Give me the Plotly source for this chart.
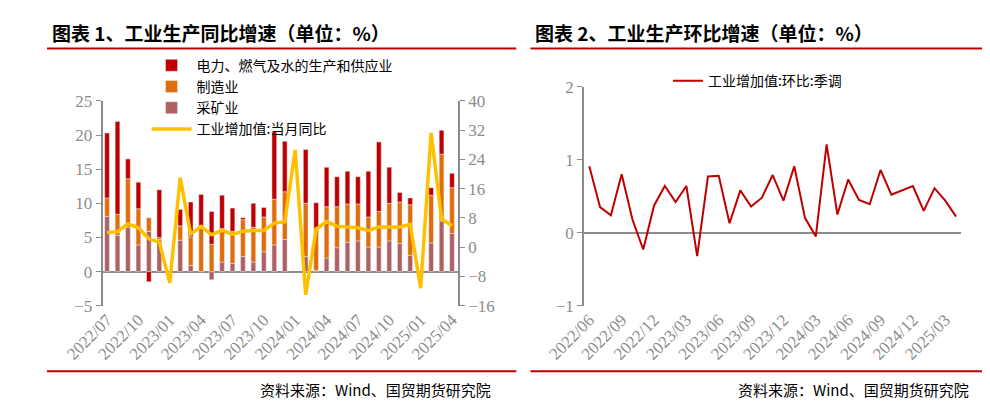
import plotly.graph_objects as go

months1 = ["2022/07", "2022/08", "2022/09", "2022/10", "2022/11", "2022/12",
           "2023/01", "2023/02", "2023/03", "2023/04", "2023/05", "2023/06",
           "2023/07", "2023/08", "2023/09", "2023/10", "2023/11", "2023/12",
           "2024/01", "2024/02", "2024/03", "2024/04", "2024/05", "2024/06",
           "2024/07", "2024/08", "2024/09", "2024/10", "2024/11", "2024/12",
           "2025/01", "2025/02", "2025/03", "2025/04"]
mining = [8.1, 5.3, 6.5, 3.9, 5.9, 4.7, None, 4.6, 0.9, 0.0, -1.2, 1.4,
          1.2, 2.2, 1.4, 2.9, 3.9, 4.7, None, 2.2, 0.2, 2.0, 3.5, 4.3,
          4.5, 3.6, 3.6, 4.5, 4.1, 2.4, None, 4.2, 7.4, 5.6]
manuf = [2.7, 3.1, 7.1, 5.3, 2.0, 0.3, None, 2.1, 4.2, 6.7, 4.0, 4.9,
         4.7, 5.4, 5.1, 5.1, 6.7, 7.0, None, 7.8, 6.2, 7.5, 6.0, 5.6,
         5.4, 4.4, 5.2, 5.5, 6.1, 7.4, None, 7.0, 9.8, 6.7]
util = [9.5, 13.6, 2.9, 3.9, -1.5, 7.0, None, 2.4, 5.1, 4.6, 4.8, 4.9,
        3.4, 0.3, 3.5, 1.4, 9.9, 7.4, None, 7.9, 3.7, 5.8, 4.4, 4.8,
        4.0, 6.7, 10.2, 5.3, 1.4, 1.0, None, 1.1, 3.5, 2.1]
yoy = [4.0, 4.2, 6.4, 5.3, 2.3, 1.4, -9.7, 19.0, 3.6, 5.7, 3.4, 4.7,
       3.5, 4.4, 4.6, 4.6, 6.6, 7.0, 26.6, -13.0, 4.9, 7.0, 5.7, 5.5,
       5.3, 4.5, 5.6, 5.5, 5.5, 6.3, -11.2, 31.3, 7.7, 5.9]

months2 = ["2022/06", "2022/07", "2022/08", "2022/09", "2022/10", "2022/11", "2022/12",
           "2023/01", "2023/02", "2023/03", "2023/04", "2023/05", "2023/06",
           "2023/07", "2023/08", "2023/09", "2023/10", "2023/11", "2023/12",
           "2024/01", "2024/02", "2024/03", "2024/04", "2024/05", "2024/06",
           "2024/07", "2024/08", "2024/09", "2024/10", "2024/11", "2024/12",
           "2025/01", "2025/02", "2025/03", "2025/04"]
mom = [0.91, 0.35, 0.24, 0.80, 0.18, -0.23, 0.37, 0.64, 0.42, 0.64, -0.32, 0.77,
       0.78, 0.13, 0.58, 0.36, 0.48, 0.79, 0.44, 0.91, 0.20, -0.05, 1.21, 0.25,
       0.73, 0.45, 0.39, 0.86, 0.52, 0.58, 0.64, 0.30, 0.61, 0.44, 0.22]

serif = "Liberation Serif, Noto Sans CJK SC"
cjk = "Noto Sans CJK SC"
gray = "#8c8c8c"

fig = go.Figure()
fig.add_trace(go.Bar(x=months1, y=mining, name="采矿业", marker_color="#b06060",
                     legendrank=3, xaxis="x", yaxis="y"))
fig.add_trace(go.Bar(x=months1, y=manuf, name="制造业", marker_color="#e36c0a",
                     legendrank=2, xaxis="x", yaxis="y"))
fig.add_trace(go.Bar(x=months1, y=util, name="电力、燃气及水的生产和供应业", marker_color="#c00000",
                     legendrank=1, xaxis="x", yaxis="y"))
fig.add_trace(go.Scatter(x=months1, y=yoy, name="工业增加值:当月同比", mode="lines",
                         line=dict(color="#ffc000", width=3.5), legendrank=4,
                         xaxis="x", yaxis="y2"))
fig.add_trace(go.Scatter(x=months2, y=mom, name="工业增加值:环比:季调", mode="lines",
                         line=dict(color="#c00000", width=2), legend="legend2",
                         xaxis="x2", yaxis="y3"))

tickfont = dict(family=serif, size=17, color=gray)
fig.update_layout(
    width=990, height=404, margin=dict(l=0, r=0, t=0, b=0),
    plot_bgcolor="white", paper_bgcolor="white",
    barmode="relative", bargap=0.55, showlegend=True,
    xaxis=dict(domain=[0.0586, 0.4333], type="category", range=[-0.43, 33.55],
               tickvals=months1[::3], tickangle=-45, tickfont=tickfont, showgrid=False),
    yaxis=dict(domain=[0.25, 0.782], range=[-5, 25], dtick=5, tickfont=tickfont,
               showgrid=False, showline=True, linecolor=gray, linewidth=2,
               ticks="outside", ticklen=5, tickcolor=gray,
               zeroline=True, zerolinecolor=gray, zerolinewidth=2),
    yaxis2=dict(overlaying="y", side="right", anchor="x", range=[-16, 40], dtick=8,
                tickfont=tickfont, showgrid=False, showline=True, linecolor=gray,
                linewidth=2, ticks="outside", ticklen=5, tickcolor=gray, zeroline=False),
    xaxis2=dict(domain=[0.5667, 0.9646], anchor="y3", type="category", range=[-0.47, 34.5],
                tickvals=months2[::3], tickangle=-45, tickfont=tickfont, showgrid=False),
    yaxis3=dict(domain=[0.25, 0.819], anchor="x2", range=[-1, 2], dtick=1, tickfont=tickfont,
                showgrid=False, showline=True, linecolor=gray, linewidth=2,
                ticks="outside", ticklen=5, tickcolor=gray,
                zeroline=True, zerolinecolor=gray, zerolinewidth=2),
    legend=dict(x=0.105, y=0.915, xanchor="left", yanchor="top", tracegroupgap=0,
                font=dict(family=cjk, size=14, color="black"), bgcolor="rgba(0,0,0,0)",
                itemwidth=40),
    legend2=dict(x=0.655, y=0.875, xanchor="left", yanchor="top",
                 font=dict(family=cjk, size=14, color="black"), bgcolor="rgba(0,0,0,0)"),
)

# titles, red rules and source notes
for x0, x1, title in [(0.0, 0.495, "图表 1、工业生产同比增速（单位：%）"),
                      (0.51, 1.0, "图表 2、工业生产环比增速（单位：%）")]:
    fig.add_annotation(x=x0 + 0.003, y=1.0, xref="paper", yref="paper", xanchor="left",
                       yanchor="top", showarrow=False, text="<b>" + title + "</b>",
                       font=dict(family=cjk, size=19, color="black"))
    fig.add_shape(type="line", xref="paper", yref="paper", x0=x0, x1=x1, y0=0.918, y1=0.918,
                  line=dict(color="#c00000", width=2))
    fig.add_shape(type="line", xref="paper", yref="paper", x0=x0, x1=x1, y0=0.08, y1=0.08,
                  line=dict(color="#c00000", width=2))
    fig.add_annotation(x=x1 - 0.025, y=0.065, xref="paper", yref="paper", xanchor="right",
                       yanchor="top", showarrow=False, text="资料来源：Wind、国贸期货研究院",
                       font=dict(family=cjk, size=15, color="black"))

fig.write_html("out.html")
